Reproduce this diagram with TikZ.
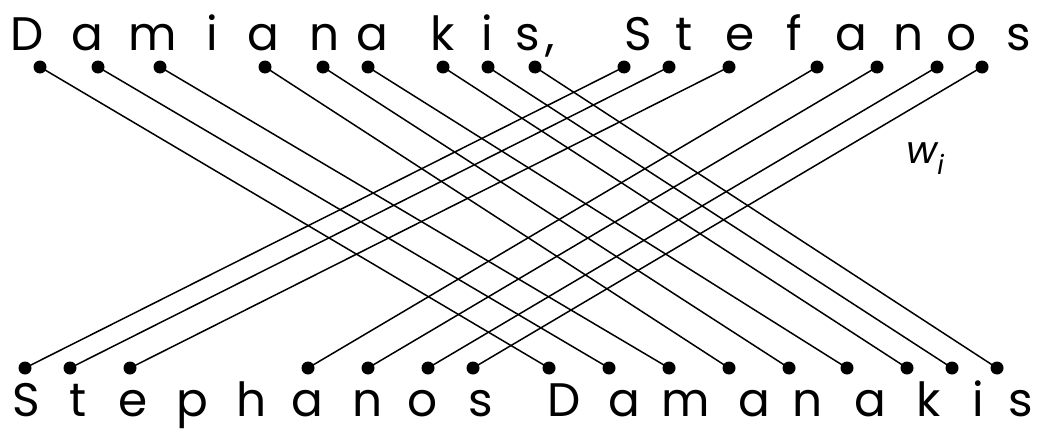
\documentclass[tikz,border=0pt]{standalone}
\usepackage{fontspec}
\setmainfont{Poppins}
\begin{document}
\begin{tikzpicture}[x=1pt,y=-1pt,
  letter/.style={anchor=base,inner sep=0pt,font=\fontsize{47}{47}\selectfont},
  dot/.style={circle,fill=black,inner sep=0pt,minimum size=13pt},
  link/.style={line width=1.5pt}]
\useasboundingbox (0,0) rectangle (1037,431);
% top name
\foreach \x/\c in {27/D,87/a,153/m,212/i,263/a,325/n,372/a,443/k,487/i,528/s,550/{,},638/S,684/t,740/e,794/f,851/a,909/n,962/o,1019/s}
  \node[letter] at (\x,50) {\c};
% bottom name
\foreach \x/\c in {26/S,78/t,133/e,192/p,252/h,307/a,368/n,423/o,481/s,564/D,624/a,686/m,754/a,808/n,870/a,929/k,978/i,1021/s}
  \node[letter] at (\x,416) {\c};
% top dots
\foreach \x [count=\i] in {40,98,160,265,323,368,443,488,535,624,669,729,817,877,937,982}
  \node[dot] (t\i) at (\x,67) {};
% bottom dots
\foreach \x [count=\i] in {25,70,130,308,368,428,473,549,609,669,729,789,847,907,952,997}
  \node[dot] (b\i) at (\x,368) {};
% links
\foreach \a/\b in {1/8,2/9,3/10,4/11,5/12,6/13,7/14,8/15,9/16,10/1,11/2,12/3,13/4,14/5,15/6,16/7}
  \draw[link] (t\a.center) -- (b\b.center);
\node[anchor=base west,inner sep=0pt,font=\fontsize{38}{38}\selectfont\itshape] (w) at (906,163) {w\textsubscript{i}};
\end{tikzpicture}
\end{document}
